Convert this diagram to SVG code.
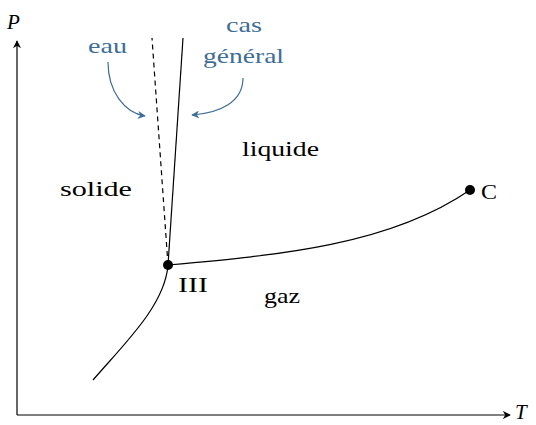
<svg xmlns="http://www.w3.org/2000/svg" width="536" height="425" viewBox="0 0 536 425">
<style>
.lbl{font-size:22px;fill:#000}
.blue{fill:#3e6d96}
.ax{font-style:italic;font-size:21px;fill:#000}
.ln{fill:none;stroke:#000;stroke-width:1.2}
.ba{fill:none;stroke:#3e6d96;stroke-width:1.2}
</style>
<defs>
<marker id="ah" viewBox="0 0 10 10" refX="9" refY="5" markerWidth="8" markerHeight="8" markerUnits="userSpaceOnUse" orient="auto">
<path d="M0,0 L10,5 L0,10 L3,5 Z" fill="#000"/>
</marker>
<marker id="bh" viewBox="0 0 10 10" refX="9" refY="5" markerWidth="8" markerHeight="8" markerUnits="userSpaceOnUse" orient="auto">
<path d="M0,0 L10,5 L0,10 L3,5 Z" fill="#3e6d96"/>
</marker>
</defs>
<g font-family="'Liberation Serif', 'DejaVu Serif', 'Noto Serif', 'Times New Roman', Times, serif">
<g id="axes">
<line class="ln" x1="17" y1="415" x2="17" y2="41" marker-end="url(#ah)"/>
<line class="ln" x1="17" y1="415" x2="510" y2="415" marker-end="url(#ah)"/>
<text class="ax" x="7" y="29">P</text>
<text class="ax" x="515" y="419">T</text>
</g>
<g id="connectors">
<path class="ln" d="M168,265 L183,38"/>
<path class="ln" d="M168,265 L152,38" stroke-dasharray="5,4"/>
<path class="ln" d="M93,380 C125,343 165,305 168,265"/>
<path class="ln" d="M168,265 C280,255 390,245 470,190"/>
<path class="ba" d="M108,62 C108,92 125,113 145,116" marker-end="url(#bh)"/>
<path class="ba" d="M243,78 C243,102 220,113 192,115" marker-end="url(#bh)"/>
</g>
<g id="triple">
<circle cx="168" cy="265" r="5" fill="#000"/>
<text class="lbl" x="178" y="292" textLength="30" lengthAdjust="spacingAndGlyphs">III</text>
</g>
<g id="critical">
<circle cx="470" cy="190" r="5" fill="#000"/>
<text class="lbl" x="481" y="199" textLength="16" lengthAdjust="spacingAndGlyphs">C</text>
</g>
<g id="solide"><text class="lbl" x="60" y="196" textLength="72" lengthAdjust="spacingAndGlyphs">solide</text></g>
<g id="liquide"><text class="lbl" x="242" y="156" textLength="77" lengthAdjust="spacingAndGlyphs">liquide</text></g>
<g id="gaz"><text class="lbl" x="264" y="303" textLength="36" lengthAdjust="spacingAndGlyphs">gaz</text></g>
<g id="eau"><text class="lbl blue" x="88" y="53" textLength="39" lengthAdjust="spacingAndGlyphs">eau</text></g>
<g id="casgeneral">
<text class="lbl blue" x="226" y="32" textLength="36" lengthAdjust="spacingAndGlyphs">cas</text>
<text class="lbl blue" x="203" y="63" textLength="81" lengthAdjust="spacingAndGlyphs">général</text>
</g>
</g>
</svg>
